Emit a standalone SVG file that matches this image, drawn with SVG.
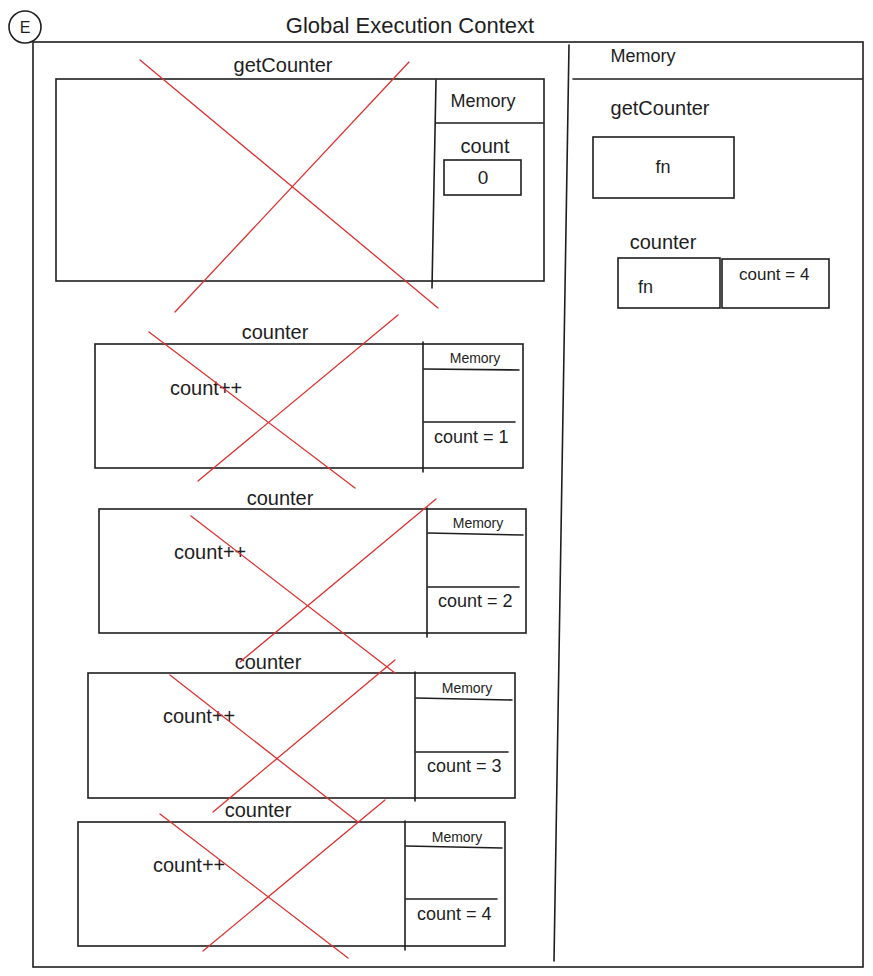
<svg xmlns="http://www.w3.org/2000/svg" width="873" height="976" viewBox="0 0 873 976">
<style>
.ln{fill:none;stroke:#1e1e1e;stroke-width:1.6;stroke-linecap:round}
.x{fill:none;stroke:#e03131;stroke-width:1.3;stroke-linecap:round}
text{font-family:"Liberation Sans",Arial,sans-serif;fill:#1e1e1e}
.lbl{font-size:20px;text-anchor:middle}
.mem{font-size:14px;text-anchor:middle}
.memL{font-size:18px;text-anchor:middle}
.val{font-size:18px}
.code{font-size:20px}
</style>
<rect width="873" height="976" fill="#ffffff"/>
<g id="badge">
<circle class="ln" cx="25" cy="27" r="16"/>
<text x="25" y="33" font-size="16" text-anchor="middle">E</text>
</g>
<g id="global-context">
<rect class="ln" x="33" y="42" width="830" height="925"/>
<text x="410" y="33" font-size="22" text-anchor="middle">Global Execution Context</text>
<line class="ln" x1="569" y1="45" x2="554" y2="961"/>
</g>
<g id="global-memory">
<text class="memL" x="643" y="62">Memory</text>
<line class="ln" x1="573" y1="79" x2="862" y2="79"/>
<text class="lbl" x="660" y="115" font-size="21">getCounter</text>
<rect class="ln" x="593" y="137" width="141" height="61"/>
<text x="663" y="173" font-size="18" text-anchor="middle">fn</text>
<text class="lbl" x="663" y="249">counter</text>
<rect class="ln" x="618" y="258" width="102" height="50"/>
<text x="638" y="293" font-size="18">fn</text>
<rect class="ln" x="722" y="259" width="107" height="49"/>
<text x="739" y="280" font-size="17">count = 4</text>
</g>
<g id="getCounter-context">
<text class="lbl" x="283" y="72" font-size="21">getCounter</text>
<rect class="ln" x="56" y="79" width="488" height="202"/>
<line class="ln" x1="436" y1="80" x2="432" y2="288"/>
<line class="ln" x1="436" y1="123" x2="543" y2="123"/>
<text class="memL" x="483" y="107">Memory</text>
<text class="lbl" x="485" y="153" font-size="19">count</text>
<rect class="ln" x="444" y="160" width="77" height="35"/>
<text x="483" y="184" font-size="19" text-anchor="middle">0</text>
</g>
<g id="counter-call-1">
<text class="lbl" x="275" y="339">counter</text>
<rect class="ln" x="95" y="344" width="428" height="124"/>
<line class="ln" x1="423" y1="342" x2="423" y2="472"/>
<text class="mem" x="475" y="363">Memory</text>
<line class="ln" x1="424" y1="369" x2="519" y2="370"/>
<line class="ln" x1="424" y1="422" x2="515" y2="422"/>
<text class="val" x="434" y="443">count = 1</text>
<text class="code" x="170" y="395">count++</text>
</g>
<g id="counter-call-2">
<text class="lbl" x="280" y="505">counter</text>
<rect class="ln" x="99" y="509" width="427" height="124"/>
<line class="ln" x1="427" y1="508" x2="427" y2="637"/>
<text class="mem" x="478" y="528">Memory</text>
<line class="ln" x1="428" y1="533" x2="523" y2="535"/>
<line class="ln" x1="428" y1="587" x2="519" y2="587"/>
<text class="val" x="438" y="607">count = 2</text>
<text class="code" x="174" y="559">count++</text>
</g>
<g id="counter-call-3">
<text class="lbl" x="268" y="669">counter</text>
<rect class="ln" x="88" y="673" width="427" height="125"/>
<line class="ln" x1="415" y1="672" x2="415" y2="801"/>
<text class="mem" x="467" y="693">Memory</text>
<line class="ln" x1="416" y1="698" x2="512" y2="700"/>
<line class="ln" x1="416" y1="752" x2="508" y2="752"/>
<text class="val" x="427" y="772">count = 3</text>
<text class="code" x="163" y="723">count++</text>
</g>
<g id="counter-call-4">
<text class="lbl" x="258" y="817">counter</text>
<rect class="ln" x="78" y="822" width="427" height="124"/>
<line class="ln" x1="405" y1="821" x2="405" y2="950"/>
<text class="mem" x="457" y="842">Memory</text>
<line class="ln" x1="406" y1="846" x2="502" y2="848"/>
<line class="ln" x1="406" y1="899" x2="497" y2="899"/>
<text class="val" x="417" y="920">count = 4</text>
<text class="code" x="153" y="872">count++</text>
</g>
<g id="connectors">
<line class="x" x1="140" y1="60" x2="438" y2="308"/>
<line class="x" x1="409" y1="62" x2="175" y2="312"/>
<line class="x" x1="149" y1="332" x2="355" y2="488"/>
<line class="x" x1="398" y1="315" x2="198" y2="481"/>
<line class="x" x1="191" y1="516" x2="395" y2="673"/>
<line class="x" x1="436" y1="499" x2="240" y2="662"/>
<line class="x" x1="170" y1="675" x2="358" y2="822"/>
<line class="x" x1="395" y1="660" x2="213" y2="812"/>
<line class="x" x1="160" y1="814" x2="348" y2="958"/>
<line class="x" x1="385" y1="800" x2="203" y2="951"/>
</g>
</svg>
